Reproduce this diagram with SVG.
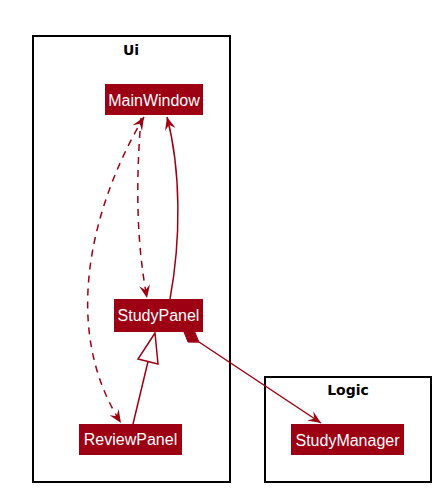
<svg xmlns="http://www.w3.org/2000/svg" width="445" height="496" viewBox="0 0 445 496">
<style>
.pkg{fill:none;stroke:#000;stroke-width:2}
.pkgl{font-family:"DejaVu Sans",sans-serif;font-weight:bold;font-size:14px;fill:#000;text-anchor:middle}
.box{fill:#9D0012}
.lbl{font-family:"Liberation Sans",Arial,sans-serif;font-size:16px;fill:#fff;text-anchor:middle}
.ln{fill:none;stroke:#9D0012;stroke-width:1.5}
.dash{stroke-dasharray:7,6}
</style>
<defs>
<marker id="arr" viewBox="0 0 13 11" refX="13" refY="5.5" markerWidth="13" markerHeight="11" markerUnits="userSpaceOnUse" orient="auto-start-reverse">
<path d="M13,5.5 L0,0 L5,5.5 L0,11 Z" fill="#9D0012"/>
</marker>
</defs>
<g id="pkg-ui">
<rect class="pkg" x="33" y="36" width="197" height="446"/>
<text class="pkgl" x="131" y="55">Ui</text>
</g>
<g id="pkg-logic">
<rect class="pkg" x="265" y="377" width="166" height="105"/>
<text class="pkgl" x="348" y="395">Logic</text>
</g>
<g id="connectors">
<path class="ln dash" d="M144,117 C100,190 55,320 121,423" marker-start="url(#arr)" marker-end="url(#arr)"/>
<path class="ln dash" d="M141,118 C136,180 136,240 147,298" marker-end="url(#arr)"/>
<path class="ln" d="M170,299 C181,240 181,170 167,117" marker-end="url(#arr)"/>
<path class="ln" d="M133,424 L148,361.5"/>
<polygon points="155,333 138,359 158,364" fill="#fff" stroke="#9D0012" stroke-width="1.5"/>
<path class="ln" d="M199,342 L321,423" marker-end="url(#arr)"/>
<polygon points="184,332 194.8,332.1 199,342.2 188,342.1" fill="#9D0012" stroke="#9D0012" stroke-width="1"/>
</g>
<g id="MainWindow">
<rect class="box" x="105" y="84" width="98" height="31"/>
<text class="lbl" x="154" y="106">MainWindow</text>
</g>
<g id="StudyPanel">
<rect class="box" x="114" y="299" width="89" height="33"/>
<text class="lbl" x="158.5" y="321">StudyPanel</text>
</g>
<g id="ReviewPanel">
<rect class="box" x="79" y="424" width="103" height="31"/>
<text class="lbl" x="130.5" y="445">ReviewPanel</text>
</g>
<g id="StudyManager">
<rect class="box" x="291" y="424" width="113" height="31"/>
<text class="lbl" x="347.5" y="446">StudyManager</text>
</g>
</svg>
